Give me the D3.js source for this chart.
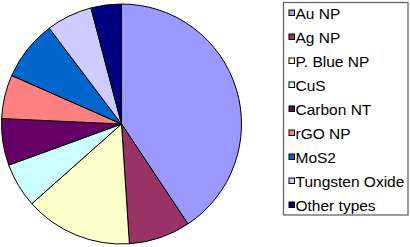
<!DOCTYPE html>
<html>
<head>
<meta charset="utf-8">
<script src="https://cdn.jsdelivr.net/npm/d3@7"></script>
<style>
  body { margin: 0; background: #fff; }
  text { font-family: "Liberation Sans", Arial, sans-serif; }
</style>
</head>
<body>
<svg id="chart" width="410" height="247"></svg>
<script>
// share of each nanoparticle type (percent)
const categories = ["Au NP", "Ag NP", "P. Blue NP", "CuS", "Carbon NT", "rGO NP", "MoS2", "Tungsten Oxide", "Other types"];
const values = [40.7, 8.3, 14.5, 6.0, 6.3, 5.9, 8.1, 6.2, 4.1];
const colors = ["#9999ff", "#993366", "#ffffcc", "#ccffff", "#660066", "#ff8080", "#0066cc", "#ccccff", "#000080"];

const svg = d3.select("#chart");
const data = categories.map((c, i) => ({ name: c, value: values[i] }));

// pie
const cx = 121.5, cy = 124, radius = 120;
const pie = d3.pie().sort(null).value(d => d.value);
const arc = d3.arc().innerRadius(0).outerRadius(radius);
const color = d3.scaleOrdinal().domain(categories).range(colors);

svg.append("g")
  .attr("transform", "translate(" + cx + "," + cy + ")")
  .selectAll("path")
  .data(pie(data))
  .join("path")
  .attr("d", arc)
  .attr("fill", d => color(d.data.name))
  .attr("stroke", "#000")
  .attr("stroke-width", 1);

// legend box
const legend = svg.append("g");
legend.append("rect")
  .attr("x", 283.5).attr("y", 2.5)
  .attr("width", 124.5).attr("height", 212.5)
  .attr("fill", "#fff")
  .attr("stroke", "#666")
  .attr("stroke-width", 1.3);

const rowY = d3.scalePoint().domain(categories).range([13, 205]);

const rows = legend.selectAll("g.item")
  .data(categories)
  .join("g")
  .attr("class", "item")
  .attr("transform", d => "translate(0," + rowY(d) + ")");

rows.append("rect")
  .attr("x", 289).attr("y", -3)
  .attr("width", 5.5).attr("height", 5.5)
  .attr("fill", d => color(d))
  .attr("stroke", "#000")
  .attr("stroke-width", 1);

rows.append("text")
  .attr("x", 295.5)
  .attr("y", 5.5)
  .attr("font-size", 15.5)
  .attr("fill", "#000")
  .text(d => d);
</script>
</body>
</html>
